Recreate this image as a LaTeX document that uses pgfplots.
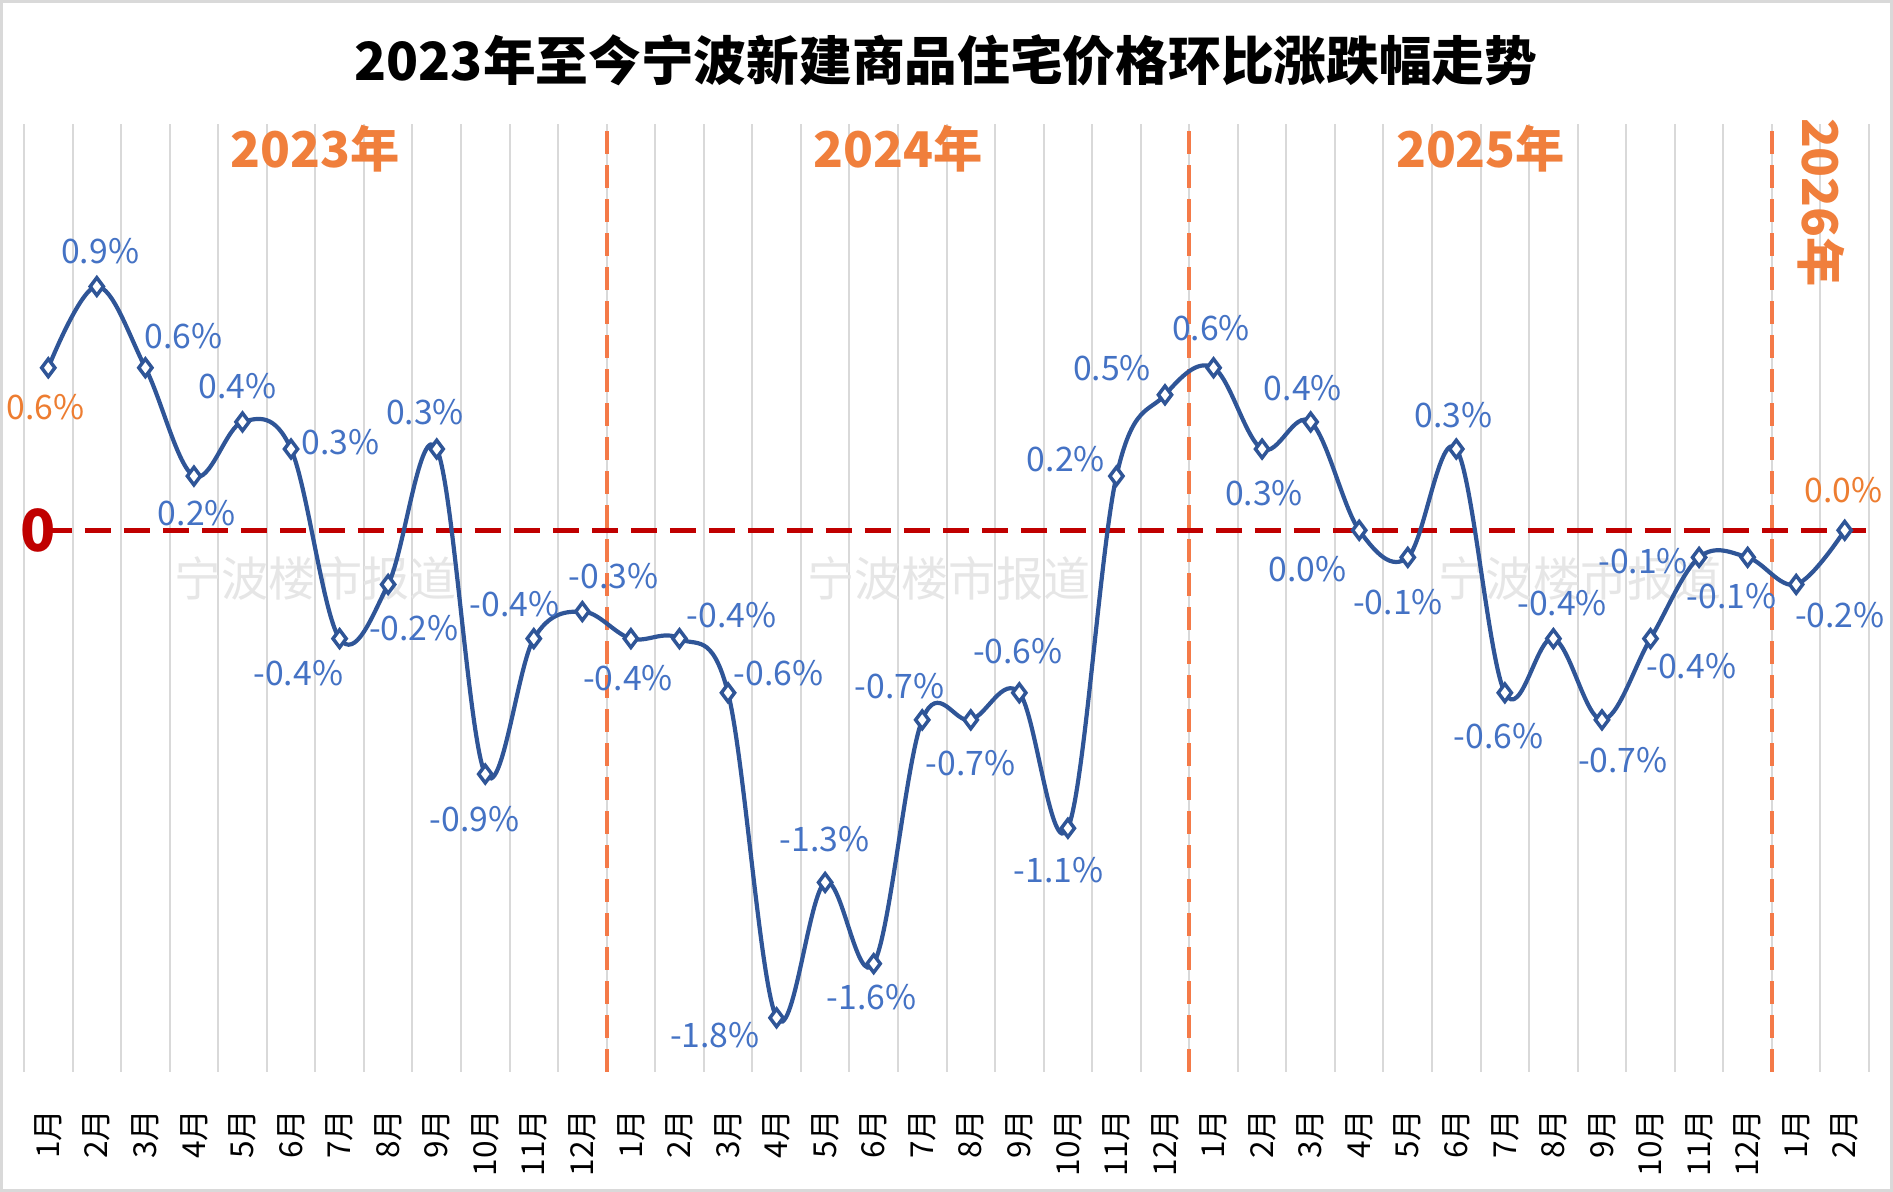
\documentclass[border=0pt]{standalone}
\usepackage{fontspec}
\usepackage{pgfplots}
\usepackage{pgfplotstable}
\pgfplotsset{compat=1.18}
\setmainfont{Noto Sans CJK SC}

\definecolor{lineblue}{HTML}{2F5597}
\definecolor{labblue}{HTML}{4472C4}
\definecolor{laborange}{HTML}{ED7D31}
\definecolor{yearorange}{HTML}{F07F3C}
\definecolor{sepline}{HTML}{F47A48}
\definecolor{zerored}{HTML}{C00000}
\definecolor{gridgray}{HTML}{D9D9D9}
\definecolor{wmgray}{HTML}{E6E6E6}

% monthly change, %, 2023-01 .. 2026-02
\pgfplotstableread{
x y
1 0.6
2 0.9
3 0.6
4 0.2
5 0.4
6 0.3
7 -0.4
8 -0.2
9 0.3
10 -0.9
11 -0.4
12 -0.3
13 -0.4
14 -0.4
15 -0.6
16 -1.8
17 -1.3
18 -1.6
19 -0.7
20 -0.7
21 -0.6
22 -1.1
23 0.2
24 0.5
25 0.6
26 0.3
27 0.4
28 0.0
29 -0.1
30 0.3
31 -0.6
32 -0.4
33 -0.7
34 -0.4
35 -0.1
36 -0.1
37 -0.2
38 0.0
}\datatab

% label positions (centre of each label)
\pgfplotstableread{
lx ly lab
2.07 1.032 0.9
3.79 0.716 0.6
4.06 0.065 0.2
4.90 0.533 0.4
7.02 0.324 0.3
6.15 -0.527 -0.4
8.53 -0.362 -0.2
8.76 0.435 0.3
9.78 -1.066 -0.9
10.60 -0.273 -0.4
12.64 -0.171 -0.3
12.94 -0.545 -0.4
15.07 -0.313 -0.4
16.04 -0.527 -0.6
14.73 -1.864 -1.8
16.99 -1.142 -1.3
17.96 -1.725 -1.6
18.53 -0.576 -0.7
20.00 -0.861 -0.7
20.97 -0.447 -0.6
21.81 -1.253 -1.1
21.96 0.261 0.2
22.91 0.600 0.5
24.95 0.747 0.6
26.04 0.137 0.3
26.84 0.524 0.4
26.94 -0.144 0.0
28.80 -0.265 -0.1
29.94 0.426 0.3
30.87 -0.759 -0.6
32.18 -0.269 -0.4
33.43 -0.848 -0.7
34.84 -0.500 -0.4
33.85 -0.113 -0.1
35.67 -0.242 -0.1
37.90 -0.313 -0.2
}\labtab

\pgfplotstableread{
lx ly lab
0.95 0.453 0.6
37.98 0.150 0.0
}\laborangetab

\begin{document}
\begin{tikzpicture}
\useasboundingbox (0,0) rectangle (18.93cm,11.92cm);
\draw[gridgray, line width=0.3mm] (0.015cm,0.015cm) rectangle (18.915cm,11.905cm);
\node[font=\bfseries\fontsize{15}{15}\selectfont] at (9.46cm,11.32cm) {2023年至今宁波新建商品住宅价格环比涨跌幅走势};
\begin{axis}[
  at={(0.24cm,1.20cm)}, anchor=south west,
  scale only axis, width=18.45cm, height=9.48cm,
  xmin=0.5, xmax=38.5, ymin=-2, ymax=1.5,
  axis line style={draw=none},
  ytick=\empty,
  xtick={1,...,38},
  xticklabels={1月,2月,3月,4月,5月,6月,7月,8月,9月,10月,11月,12月,
               1月,2月,3月,4月,5月,6月,7月,8月,9月,10月,11月,12月,
               1月,2月,3月,4月,5月,6月,7月,8月,9月,10月,11月,12月,
               1月,2月},
  major tick length=0pt,
  xticklabel style={rotate=90, anchor=east, font=\fontsize{9}{9}\selectfont},
  xticklabel shift=2.5mm,
  minor xtick={0.5,1.5,...,38.5},
  minor tick length=0pt,
  minor x grid style={gridgray, line width=0.2mm},
  xminorgrids=true,
  clip=false,
]
\node[font=\fontsize{13.4}{14}\selectfont, text=wmgray] at (axis cs:6.5,-0.177) {宁波楼市报道};
\node[font=\fontsize{13.4}{14}\selectfont, text=wmgray] at (axis cs:19.55,-0.177) {宁波楼市报道};
\node[font=\fontsize{13.4}{14}\selectfont, text=wmgray] at (axis cs:32.55,-0.177) {宁波楼市报道};

\draw[sepline, line width=0.42mm, dash pattern=on 2.3mm off 1.1mm] (axis cs:12.5,-2) -- (axis cs:12.5,1.5);
\draw[sepline, line width=0.42mm, dash pattern=on 2.3mm off 1.1mm] (axis cs:24.5,-2) -- (axis cs:24.5,1.5);
\draw[sepline, line width=0.42mm, dash pattern=on 2.3mm off 1.1mm] (axis cs:36.5,-2) -- (axis cs:36.5,1.5);
\draw[zerored, line width=0.55mm, dash pattern=on 2.6mm off 1.3mm] (axis cs:0.95,0) -- (axis cs:38.5,0);

\node[font=\bfseries\fontsize{14}{14}\selectfont, text=yearorange] at (axis cs:6.5,1.41) {2023年};
\node[font=\bfseries\fontsize{14}{14}\selectfont, text=yearorange] at (axis cs:18.5,1.41) {2024年};
\node[font=\bfseries\fontsize{14}{14}\selectfont, text=yearorange] at (axis cs:30.5,1.41) {2025年};
\node[font=\bfseries\fontsize{14}{14}\selectfont, text=yearorange, rotate=-90] at (axis cs:37.52,1.21) {2026年};
\node[font=\bfseries\fontsize{16.5}{16}\selectfont, text=zerored] at (axis cs:0.80,0) {0};

\addplot[lineblue, line width=0.42mm, smooth, tension=0.6,
  mark=diamond*, mark size=2.5pt,
  mark options={fill=white, draw=lineblue, line width=0.35mm, solid}]
  table[x=x, y=y] {\datatab};

\addplot[draw=none, mark=none, nodes near coords={\pgfplotspointmeta\%},
  point meta=explicit symbolic, nodes near coords align=center,
  every node near coord/.append style={anchor=center, inner sep=0pt, text=labblue, font=\fontsize{9.6}{10}\selectfont}]
  table[x=lx, y=ly, meta=lab] {\labtab};

\addplot[draw=none, mark=none, nodes near coords={\pgfplotspointmeta\%},
  point meta=explicit symbolic, nodes near coords align=center,
  every node near coord/.append style={anchor=center, inner sep=0pt, text=laborange, font=\fontsize{9.6}{10}\selectfont}]
  table[x=lx, y=ly, meta=lab] {\laborangetab};
\end{axis}
\end{tikzpicture}
\end{document}
